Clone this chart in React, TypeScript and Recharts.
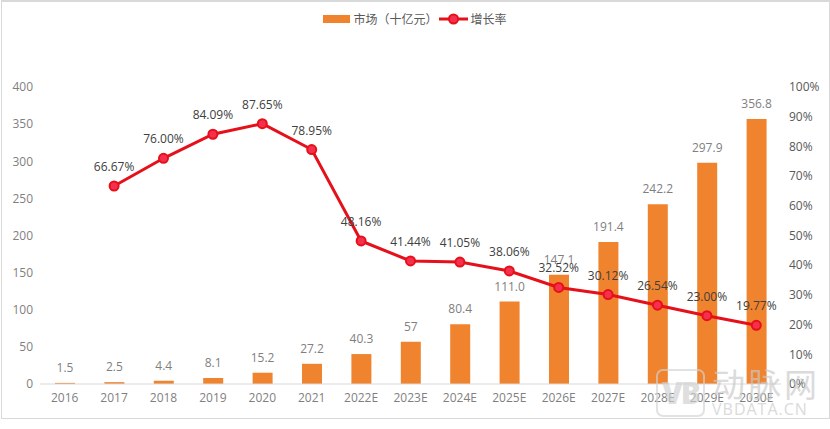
import { ComposedChart, Bar, Line, XAxis, YAxis, Legend, LabelList } from "recharts";

const years = ["2016", "2017", "2018", "2019", "2020", "2021", "2022E", "2023E", "2024E", "2025E", "2026E", "2027E", "2028E", "2029E", "2030E"];
const marketLabels = ["1.5", "2.5", "4.4", "8.1", "15.2", "27.2", "40.3", "57", "80.4", "111.0", "147.1", "191.4", "242.2", "297.9", "356.8"];
const market = [1.5, 2.5, 4.4, 8.1, 15.2, 27.2, 40.3, 57, 80.4, 111.0, 147.1, 191.4, 242.2, 297.9, 356.8];
const growth = [null, 66.67, 76.0, 84.09, 87.65, 78.95, 48.16, 41.44, 41.05, 38.06, 32.52, 30.12, 26.54, 23.0, 19.77];
const leftTicks = [0, 50, 100, 150, 200, 250, 300, 350, 400];
const rightTicks = [0, 10, 20, 30, 40, 50, 60, 70, 80, 90, 100];
const marketName = "市场\uFF08十亿元\uFF09";
const growthName = "增长率";

const data = years.map((year, i) => ({
  year,
  market: market[i],
  marketLabel: marketLabels[i],
  growth: growth[i],
}));

const font = "'Open Sans', 'Noto Sans CJK SC', sans-serif";

function ChartLegend() {
  return (
    <div style={{ height: 27, display: "flex", justifyContent: "center", alignItems: "center", fontSize: 12, color: "#595959" }}>
      <svg width={27} height={8} style={{ marginRight: 3 }}>
        <rect width={27} height={8} fill="#f0832d" />
      </svg>
      <span style={{ marginRight: 1 }}>{marketName}</span>
      <svg width={29} height={12} style={{ marginRight: 3 }}>
        <line x1={0} x2={29} y1={6} y2={6} stroke="#e6101a" strokeWidth={3} />
        <circle cx={14.5} cy={6} r={4.5} fill="#f5304f" stroke="#e6101a" strokeWidth={2} />
      </svg>
      <span>{growthName}</span>
    </div>
  );
}

export default function App() {
  return (
    <div style={{ position: "absolute", left: 0, top: 0, width: 830, height: 429, background: "#fff", fontFamily: font }}>
      <div style={{ position: "absolute", left: 1, top: 0, width: 827, height: 416, border: "1px solid #d9d9d9", borderTopWidth: 2 }} />
      <ComposedChart
        width={830}
        height={429}
        data={data}
        margin={{ top: 60, right: 0, bottom: 15, left: 0 }}
        style={{ position: "absolute", left: 0, top: 0 }}
      >
        <Legend
          verticalAlign="top"
          align="center"
          content={<ChartLegend />}
          wrapperStyle={{ top: 5, left: 0, width: 830 }}
        />
        <XAxis
          dataKey="year"
          tickLine={false}
          axisLine={{ stroke: "#d9d9d9" }}
          tick={{ fill: "#7f7f7f", fontSize: 12 }}
          tickMargin={3}
          interval={0}
        />
        <YAxis
          yAxisId="left"
          domain={[0, 400]}
          ticks={leftTicks}
          width={40}
          axisLine={false}
          tickLine={false}
          tick={{ fill: "#7f7f7f", fontSize: 12 }}
          tickMargin={1}
        />
        <YAxis
          yAxisId="right"
          orientation="right"
          domain={[0, 100]}
          ticks={rightTicks}
          tickFormatter={(v) => `${v}%`}
          width={49}
          axisLine={false}
          tickLine={false}
          tick={{ fill: "#595959", fontSize: 12 }}
          tickMargin={2}
        />
        <Bar yAxisId="left" dataKey="market" name={marketName} fill="#f0832d" barSize={20} isAnimationActive={false}>
          <LabelList dataKey="marketLabel" position="top" offset={11} fill="#7f7f7f" fontSize={12} />
        </Bar>
        <Line
          yAxisId="right"
          dataKey="growth"
          name={growthName}
          stroke="#e6101a"
          strokeWidth={3}
          dot={{ r: 4.5, fill: "#f5304f", stroke: "#e6101a", strokeWidth: 2 }}
          connectNulls={false}
          isAnimationActive={false}
        >
          <LabelList
            dataKey="growth"
            position="top"
            offset={15}
            fill="#404040"
            fontSize={12}
            formatter={(v: number) => (v == null ? "" : `${v.toFixed(2)}%`)}
          />
        </Line>
      </ComposedChart>
      {/* watermark */}
      <div style={{ position: "absolute", left: 656, top: 369, width: 49, height: 48, boxSizing: "border-box", border: "2px solid #d4d4d4", borderRadius: 7, color: "#cfcfcf", opacity: 0.65, fontSize: 30, fontWeight: 800, letterSpacing: -2, lineHeight: "44px", textAlign: "center", pointerEvents: "none" }}>
        VB
      </div>
      <div style={{ position: "absolute", left: 712, top: 368, width: 108, color: "#c8c8c8", opacity: 0.65, lineHeight: 1, pointerEvents: "none" }}>
        <div style={{ fontSize: 33, letterSpacing: 3, whiteSpace: "nowrap" }}>动脉网</div>
        <div style={{ fontSize: 16, letterSpacing: 1, whiteSpace: "nowrap" }}>VBDATA.CN</div>
      </div>
    </div>
  );
}
